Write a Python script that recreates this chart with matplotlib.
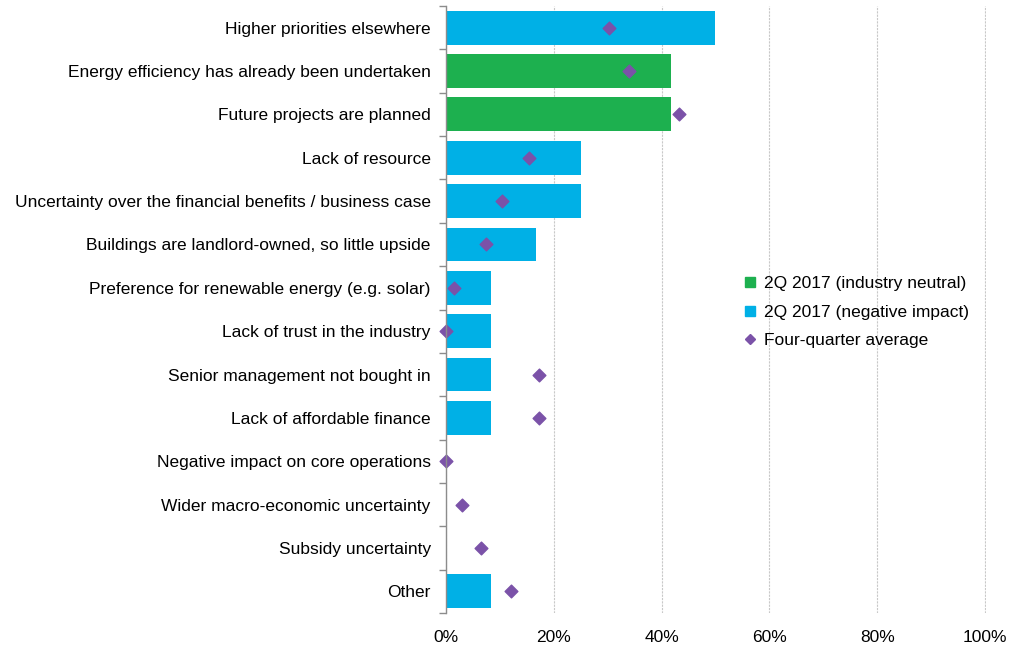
import matplotlib
matplotlib.use("Agg")
import matplotlib.pyplot as plt
from matplotlib.lines import Line2D
from matplotlib.ticker import FuncFormatter, FixedLocator
import numpy as np

plt.rcParams['font.family'] = ['Liberation Sans', 'DejaVu Sans']

categories = [
    "Higher priorities elsewhere",
    "Energy efficiency has already been undertaken",
    "Future projects are planned",
    "Lack of resource",
    "Uncertainty over the financial benefits / business case",
    "Buildings are landlord-owned, so little upside",
    "Preference for renewable energy (e.g. solar)",
    "Lack of trust in the industry",
    "Senior management not bought in",
    "Lack of affordable finance",
    "Negative impact on core operations",
    "Wider macro-economic uncertainty",
    "Subsidy uncertainty",
    "Other",
]
current_quarter = [50.0, 41.7, 41.7, 25.0, 25.0, 16.7, 8.3, 8.3, 8.3, 8.3, 0.0, 0.0, 0.0, 8.3]
industry_neutral = [False, True, True, False, False, False, False, False, False, False, False, False, False, False]
four_quarter_avg = [30.3, 34.0, 43.2, 15.4, 10.4, 7.4, 1.5, 0.0, 17.2, 17.2, 0.0, 2.9, 6.5, 12.0]
x_ticks = [0, 20, 40, 60, 80, 100]

BLUE = "#00B0E6"
GREEN = "#1DB04F"
PURPLE = "#7B52A8"
FS = 12.5

fig = plt.figure(figsize=(10.22, 6.46), dpi=100)
ax = fig.add_axes([0.4364, 0.051, 0.5284, 0.9397])

y = np.arange(len(categories))
colors = [GREEN if g else BLUE for g in industry_neutral]
ax.barh(y, current_quarter, height=0.78, color=colors, zorder=2)
ax.scatter(four_quarter_avg, y, marker="D", s=42, color=PURPLE, zorder=3, clip_on=False)

ax.set_ylim(len(categories) - 0.5, -0.5)
ax.set_xlim(0, 100.2)

ax.set_yticks(y)
ax.set_yticklabels(categories, fontsize=FS)
ax.yaxis.set_minor_locator(FixedLocator(np.arange(-0.5, len(categories), 1.0)))
ax.tick_params(axis="y", which="major", length=0, pad=11)
ax.tick_params(axis="y", which="minor", length=5, color="#8C8C8C", width=1)

ax.xaxis.set_major_locator(FixedLocator(x_ticks))
ax.xaxis.set_major_formatter(FuncFormatter(lambda v, _: f"{int(v)}%"))
ax.tick_params(axis="x", length=0, labelsize=FS, pad=12)

ax.grid(axis="x", color="#C8C8C8", linestyle=(0, (2, 1)), linewidth=0.8, zorder=0)
for s in ["top", "right", "bottom"]:
    ax.spines[s].set_visible(False)
ax.spines["left"].set_color("#8C8C8C")
ax.spines["left"].set_linewidth(1)
ax.spines["left"].set_zorder(4)

handles = [
    Line2D([], [], marker="s", linestyle="none", color=GREEN, markersize=7),
    Line2D([], [], marker="s", linestyle="none", color=BLUE, markersize=7),
    Line2D([], [], marker="D", linestyle="none", color=PURPLE, markersize=5),
]
labels = ["2Q 2017 (industry neutral)", "2Q 2017 (negative impact)", "Four-quarter average"]
fig.legend(handles, labels, loc="upper left", bbox_to_anchor=(0.719, 0.583),
           frameon=False, fontsize=FS, handletextpad=0.3, handlelength=1.0,
           labelspacing=0.76, borderaxespad=0)

fig.savefig("out.png", dpi=100)
